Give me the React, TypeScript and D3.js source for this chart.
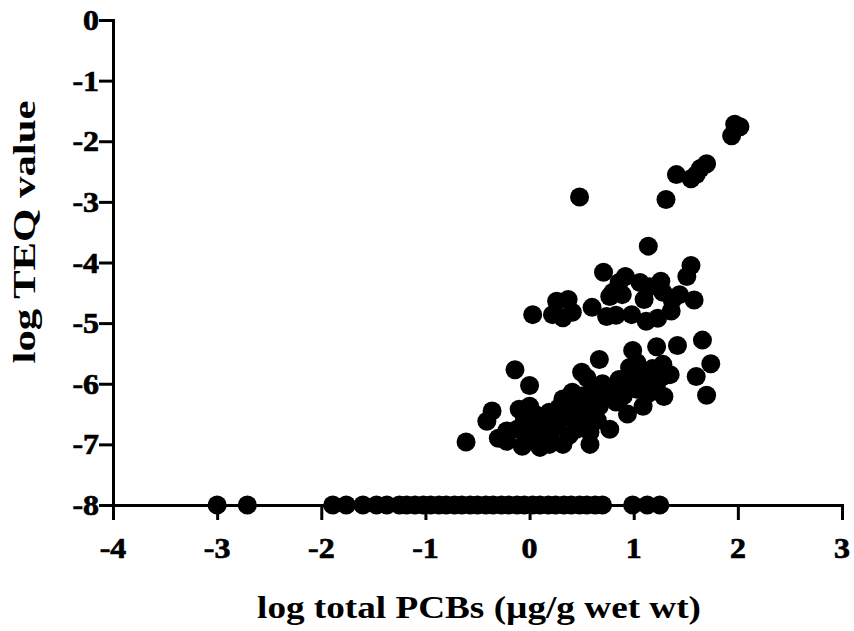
import React, { useEffect, useRef } from "react";
import * as d3 from "d3";

// log total PCBs for samples with TEQ below detection (plotted at -8)
const nondetectX = [
  -3.0, -2.71, -1.89, -1.76, -1.6, -1.47, -1.37, -1.25, -1.18, -1.1, -1.02,
  -0.95, -0.87, -0.8, -0.72, -0.65, -0.57, -0.5, -0.42, -0.35, -0.27, -0.2,
  -0.12, -0.05, 0.03, 0.1, 0.18, 0.25, 0.33, 0.4, 0.48, 0.55, 0.63, 0.7, 0.99,
  1.13, 1.25,
];
const nondetectY = -8;

// [log total PCBs, log TEQ]
const detected: [number, number][] = [
  [2.02, -1.76], [1.97, -1.72], [1.94, -1.91], [1.7, -2.37], [1.64, -2.45],
  [1.6, -2.55], [1.55, -2.62], [1.41, -2.55], [0.48, -2.92], [1.31, -2.96],
  [1.14, -3.73], [1.55, -4.05], [1.51, -4.23], [0.71, -4.16],
  [0.92, -4.23], [1.26, -4.31], [1.06, -4.33], [1.15, -4.4], [0.86, -4.33],
  [0.77, -4.56], [0.89, -4.53], [1.1, -4.61], [1.28, -4.49], [1.44, -4.53],
  [1.58, -4.62], [1.37, -4.62], [0.8, -4.49],
  [0.03, -4.86], [0.26, -4.64], [0.37, -4.61], [0.22, -4.86], [0.32, -4.91],
  [0.41, -4.82], [0.6, -4.74], [0.74, -4.89], [0.83, -4.87], [0.98, -4.86],
  [1.12, -4.97], [1.23, -4.92], [1.36, -4.8],
  [1.66, -5.28], [1.74, -5.67], [1.6, -5.88], [1.7, -6.19],
  [1.42, -5.37], [1.22, -5.39], [0.99, -5.45], [1.03, -5.65], [0.96, -5.73],
  [0.67, -5.6], [0.5, -5.81], [1.28, -5.68], [1.28, -5.88], [1.12, -5.88],
  [1.29, -6.21], [1.09, -6.37], [0.94, -6.5], [0.77, -6.09], [0.77, -6.75],
  [0.58, -7.0], [0.86, -5.93], [1.22, -6.01], [1.03, -6.09], [1.15, -6.15],
  [-0.61, -6.96], [-0.14, -5.77], [0.0, -6.03], [-0.36, -6.45], [-0.41, -6.62],
  [-0.22, -6.78], [-0.22, -6.95], [-0.1, -6.42], [0.0, -6.37], [-0.07, -7.03],
  [0.1, -7.05], [0.19, -7.0], [0.32, -7.0], [0.19, -6.47], [0.41, -6.14],
  [0.45, -6.75], [0.67, -6.37], [0.55, -6.3], [0.32, -6.25], [0.26, -6.7],
  [0.0, -6.8], [-0.12, -6.75], [0.1, -6.7], [0.48, -6.53], [0.83, -6.3],
  [0.05, -6.9], [0.15, -6.85], [0.25, -6.6], [0.35, -6.55], [0.4, -6.4],
  [0.5, -6.2], [0.6, -6.1], [0.7, -6.0], [0.62, -6.45], [0.72, -6.2],
  [0.52, -6.65], [0.38, -6.85], [0.2, -6.9], [-0.05, -6.6], [0.9, -6.2],
  [1.0, -5.9], [0.55, -5.9], [0.45, -6.4], [0.12, -6.55], [0.28, -6.4],
  [0.65, -6.6], [0.85, -6.05], [0.95, -6.0], [1.18, -5.75], [1.35, -5.85],
  [-0.3, -6.9], [0.05, -6.5], [0.58, -6.8],
];

const xTicks = [-4, -3, -2, -1, 0, 1, 2, 3];
const yTicks = [0, -1, -2, -3, -4, -5, -6, -7, -8];

const W = 854;
const H = 631;
const FONT = "'Liberation Serif', 'Times New Roman', serif";
const STRETCH = 1.1; // original figure is a bit wider than tall

export default function App() {
  const ref = useRef<SVGSVGElement>(null);

  useEffect(() => {
    const svg = d3.select(ref.current);
    svg.selectAll("*").remove();

    const x = d3.scaleLinear().domain([-4, 3]).range([113, 842]);
    const y = d3.scaleLinear().domain([0, -8]).range([20, 505]);

    const xAxis = svg
      .append("g")
      .attr("transform", `translate(0,${y(-8)})`)
      .call(d3.axisBottom(x).tickValues(xTicks).tickFormat(() => "").tickSizeOuter(0).tickSize(15));
    const yAxis = svg
      .append("g")
      .attr("transform", `translate(${x(-4)},0)`)
      .call(d3.axisLeft(y).tickValues(yTicks).tickFormat(() => "").tickSizeOuter(0).tickSize(14));

    [xAxis, yAxis].forEach((g) => {
      g.select(".domain").attr("stroke", "#000").attr("stroke-width", 3);
      g.selectAll(".tick line").attr("stroke", "#000").attr("stroke-width", 3);
    });

    // tick labels (plain hyphen, bold serif)
    svg
      .append("g")
      .selectAll("text")
      .data(xTicks)
      .enter()
      .append("text")
      .attr("transform", (d) => `translate(${x(d)},558) scale(${STRETCH},1)`)
      .attr("text-anchor", "middle")
      .attr("stroke", "#000")
      .attr("stroke-width", 0.7)
      .style("font-family", FONT)
      .style("font-weight", 700)
      .style("font-size", "29px")
      .text((d) => `${d}`);

    svg
      .append("g")
      .selectAll("text")
      .data(yTicks)
      .enter()
      .append("text")
      .attr("transform", (d) => `translate(99,${y(d) + 10}) scale(${STRETCH},1)`)
      .attr("text-anchor", "end")
      .attr("stroke", "#000")
      .attr("stroke-width", 0.7)
      .style("font-family", FONT)
      .style("font-weight", 700)
      .style("font-size", "29px")
      .text((d) => `${d}`);

    // points
    svg
      .append("g")
      .selectAll("circle")
      .data(nondetectX)
      .enter()
      .append("circle")
      .attr("cx", (d) => x(d))
      .attr("cy", y(nondetectY))
      .attr("r", 9.5)
      .attr("fill", "#000");

    svg
      .append("g")
      .selectAll("circle")
      .data(detected)
      .enter()
      .append("circle")
      .attr("cx", (d) => x(d[0]))
      .attr("cy", (d) => y(d[1]))
      .attr("r", 9.5)
      .attr("fill", "#000");

    svg
      .append("text")
      .attr("transform", `translate(479,618) scale(1.2,1)`)
      .attr("text-anchor", "middle")
      .attr("font-family", FONT)
      .attr("font-weight", "bold")
      .attr("font-size", 31)
      .text("log total PCBs (µg/g wet wt)");

    svg
      .append("text")
      .attr("transform", `translate(35,232) rotate(-90)`)
      .attr("text-anchor", "middle")
      .attr("font-family", FONT)
      .attr("font-weight", "bold")
      .attr("font-size", 32)
      .attr("textLength", 263)
      .attr("lengthAdjust", "spacingAndGlyphs")
      .text("log TEQ value");
  }, []);

  return (
    <svg
      ref={ref}
      width={W}
      height={H}
      style={{ position: "absolute", left: 0, top: 0, background: "#fff" }}
    />
  );
}
